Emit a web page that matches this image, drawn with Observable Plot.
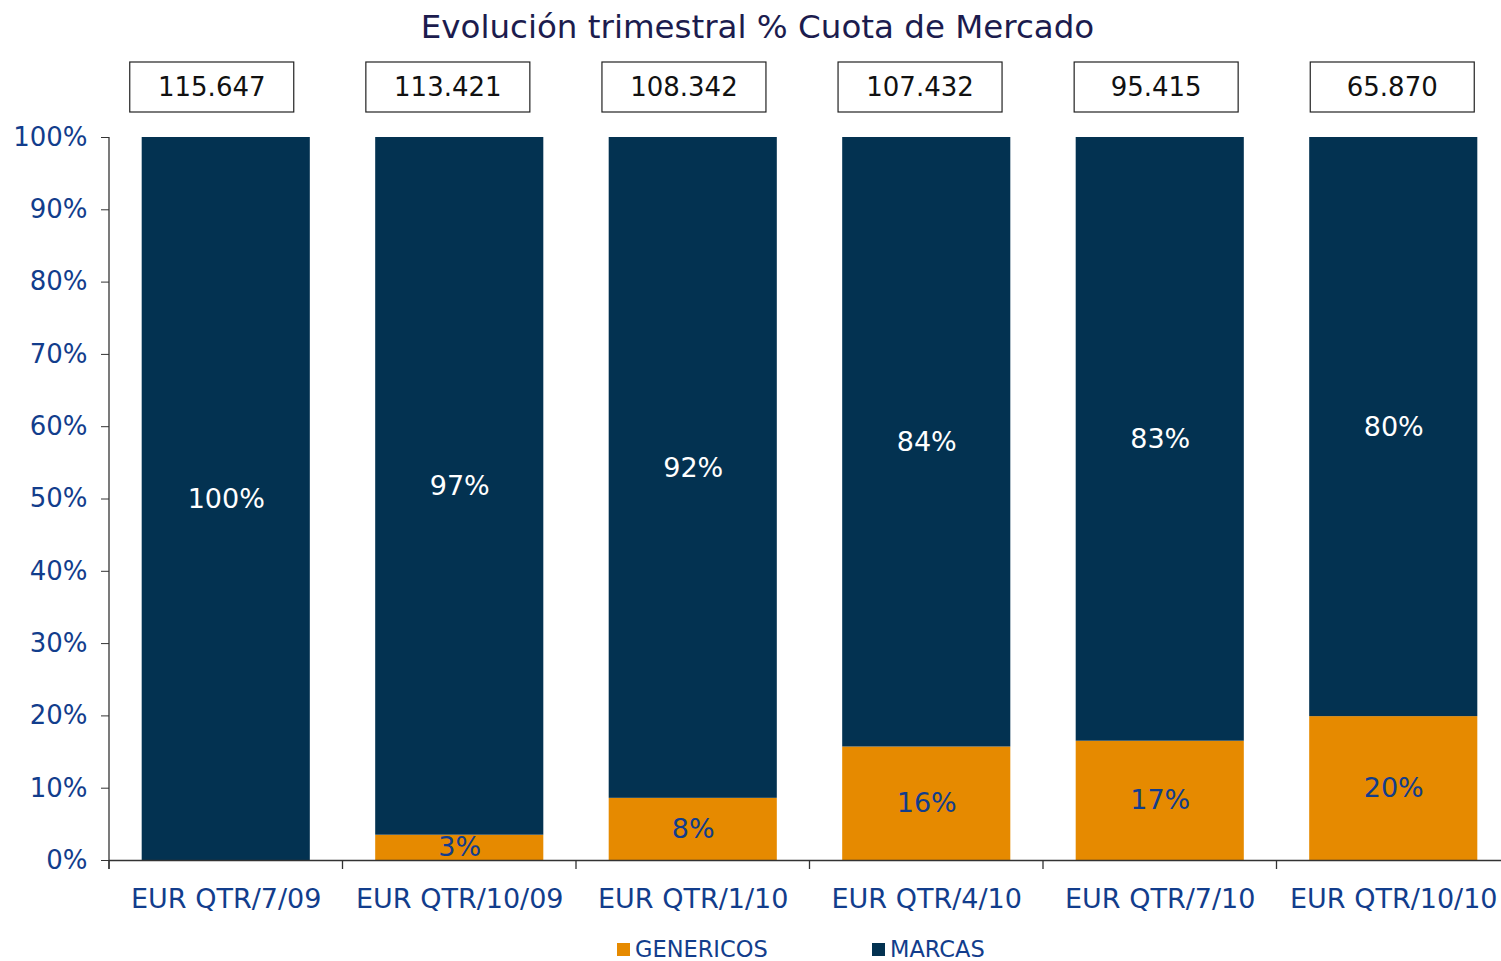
<!DOCTYPE html>
<html>
<head>
<meta charset="utf-8">
<script src="https://cdn.jsdelivr.net/npm/d3@7"></script>
<script src="https://cdn.jsdelivr.net/npm/@observablehq/plot@0.6"></script>
<style>
  body { margin: 0; background: #fff; font-family: "DejaVu Sans", sans-serif; }
  #title { height: 54px; line-height: 54px; text-align: center; font-size: 32.5px; color: #1c1c4e; padding-left: 14px; width: 1501px; box-sizing: border-box; }
  #legend { position: relative; height: 30px; width: 1501px; font-size: 22.5px; color: #123d8c; }
  .item { position: absolute; top: 0; line-height: 30px; display: flex; align-items: center; }
  .sw { width: 13px; height: 13px; margin-right: 5px; display: inline-block; }
</style>
</head>
<body>
<div id="title">Evolución trimestral % Cuota de Mercado</div>
<div id="chart"></div>
<div id="legend"></div>
<script>
const quarters = ["EUR QTR/7/09", "EUR QTR/10/09", "EUR QTR/1/10", "EUR QTR/4/10", "EUR QTR/7/10", "EUR QTR/10/10"];
const totals = ["115.647", "113.421", "108.342", "107.432", "95.415", "65.870"];
const genericos = [0, 3.5, 8.6, 15.7, 16.5, 19.9];
const marcas = [100, 96.5, 91.4, 84.3, 83.5, 80.1];
const genLabels = ["", "3%", "8%", "16%", "17%", "20%"];
const marLabels = ["100%", "97%", "92%", "84%", "83%", "80%"];
const series = ["GENERICOS", "MARCAS"];
const yTicks = [0, 10, 20, 30, 40, 50, 60, 70, 80, 90, 100];

const ORANGE = "#e68a00", NAVY = "#033251", BLUE = "#123d8c";

const rows = quarters.flatMap((q, i) => [
  {q, s: "GENERICOS", y1: 0, y2: genericos[i], label: genLabels[i]},
  {q, s: "MARCAS", y1: genericos[i], y2: genericos[i] + marcas[i], label: marLabels[i]}
]);

function bandInfo(x) {
  const bw = x.bandwidth ? x.bandwidth() : 0;
  const step = x.step ? x.step() : (x(quarters[1]) - x(quarters[0]));
  return {bw, step, gap: step - bw};
}

function axesExtras(index, scales, values, dims) {
  const x = scales.x;
  const {gap} = bandInfo(x);
  const g = d3.create("svg:g");
  const bottom = dims.height - dims.marginBottom;
  g.append("line").attr("x1", dims.marginLeft).attr("x2", dims.marginLeft)
    .attr("y1", dims.marginTop).attr("y2", bottom + 9).attr("stroke", "#333").attr("stroke-width", 1.3);
  quarters.forEach(q => {
    const bx = x(q) - gap / 2;
    g.append("line").attr("x1", bx).attr("x2", bx).attr("y1", bottom).attr("y2", bottom + 9)
      .attr("stroke", "#333").attr("stroke-width", 1.3);
  });
  return g.node();
}

function totalBoxes(index, scales, values, dims) {
  const x = scales.x;
  const {bw} = bandInfo(x);
  const g = d3.create("svg:g");
  quarters.forEach((q, i) => {
    const cx = x(q) + bw / 2 - 14 + 2.6 * i;
    g.append("rect").attr("x", cx - 82).attr("y", dims.marginTop - 75).attr("width", 164).attr("height", 50)
      .attr("fill", "white").attr("stroke", "#222").attr("stroke-width", 1.2);
    g.append("text").attr("x", cx).attr("y", dims.marginTop - 50).attr("text-anchor", "middle")
      .attr("dy", "0.36em").attr("font-size", 26).attr("fill", "#111").text(totals[i]);
  });
  return g.node();
}

const chart = Plot.plot({
  width: 1501,
  height: 880,
  marginTop: 83,
  marginBottom: 74,
  marginLeft: 109,
  marginRight: 0,
  style: {fontFamily: "DejaVu Sans, sans-serif", background: "white", overflow: "visible"},
  x: {domain: quarters, range: [109, 1510], paddingInner: 0.28, paddingOuter: 0.14, round: false, axis: null},
  y: {domain: [0, 100], axis: null},
  color: {domain: series, range: [ORANGE, NAVY]},
  marks: [
    Plot.barY(rows, {x: "q", y1: "y1", y2: "y2", fill: "s"}),
    Plot.ruleY([0], {stroke: "#333", strokeWidth: 1.3}),
    Plot.axisY(yTicks, {tickSize: 8, tickPadding: 14, tickFormat: d => d + "%", fontSize: 26, fill: BLUE, stroke: "#333", label: null}),
    Plot.axisX({tickSize: 0, tickPadding: 28, fontSize: 27, fill: BLUE, label: null}),
    Plot.text(rows.filter(d => d.s === "MARCAS" && d.label), {x: "q", y: d => (d.y1 + d.y2) / 2, text: "label", fill: "white", fontSize: 27}),
    Plot.text(rows.filter(d => d.s === "GENERICOS" && d.label), {x: "q", y: d => (d.y1 + d.y2) / 2, text: "label", fill: BLUE, fontSize: 27}),
    axesExtras,
    totalBoxes
  ]
});
document.getElementById("chart").append(chart);

const legend = document.getElementById("legend");
const legendPos = {GENERICOS: 617, MARCAS: 872};
series.forEach(s => {
  const it = document.createElement("div");
  it.className = "item";
  it.style.left = legendPos[s] + "px";
  it.innerHTML = `<span class="sw" style="background:${s === "GENERICOS" ? ORANGE : NAVY}"></span>${s}`;
  legend.append(it);
});
</script>
</body>
</html>
